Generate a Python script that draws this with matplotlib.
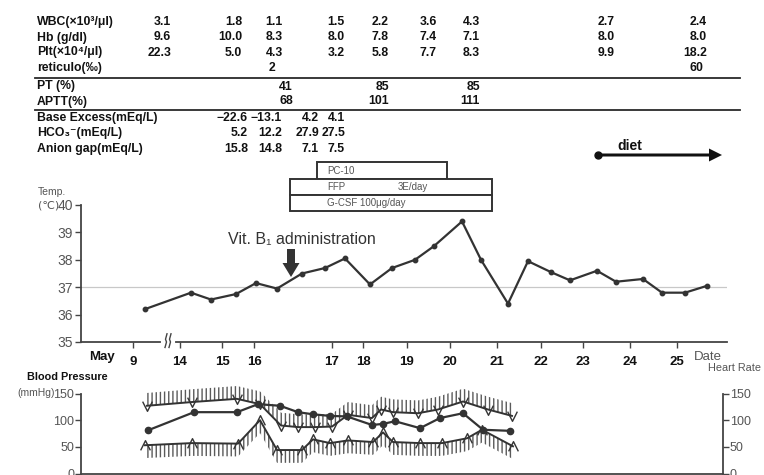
import numpy as np
import matplotlib
matplotlib.use("Agg")
import matplotlib.pyplot as plt
from matplotlib.patches import Rectangle, FancyArrow
from matplotlib.path import Path
from matplotlib.lines import Line2D
import matplotlib.transforms as mtrans

plt.rcParams['font.family'] = ['Liberation Sans', 'DejaVu Sans']
plt.rcParams['hatch.linewidth'] = 1.0

# ---------------- data ----------------
row_labels = ["WBC(×10³/μl)", "Hb (g/dl)", "Plt(×10⁴/μl)", "reticulo(‰)",
              "PT (%)", "APTT(%)", "Base Excess(mEq/L)", "HCO₃⁻(mEq/L)",
              "Anion gap(mEq/L)"]
wbc = ["3.1", "1.8", "1.1", "1.5", "2.2", "3.6", "4.3", "2.7", "2.4"]
hb = ["9.6", "10.0", "8.3", "8.0", "7.8", "7.4", "7.1", "8.0", "8.0"]
plt_cnt = ["22.3", "5.0", "4.3", "3.2", "5.8", "7.7", "8.3", "9.9", "18.2"]
reticulo = ["2", "60"]
pt = ["41", "85", "85"]
aptt = ["68", "101", "111"]
base_excess = ["−22.6", "−13.1", "4.2", "4.1"]
hco3 = ["5.2", "12.2", "27.9", "27.5"]
anion_gap = ["15.8", "14.8", "7.1", "7.5"]

date_labels = ["9", "14", "15", "16", "17", "18", "19", "20", "21", "22", "23", "24", "25"]
date_pos = [133, 180, 222, 254, 332, 363, 407, 450, 497, 541, 583, 630, 677]

temp_x = [145, 191, 211, 236, 256, 277, 302, 325, 345, 370, 392, 415, 434,
          462, 481, 508, 528, 551, 570, 597, 616, 643, 662, 685, 707]
temp_y = [36.2, 36.8, 36.55, 36.75, 37.15, 36.95, 37.5, 37.7, 38.05, 37.1,
          37.7, 38.0, 38.5, 39.4, 38.0, 36.4, 37.95, 37.55, 37.25, 37.6,
          37.2, 37.3, 36.8, 36.8, 37.05]

sys_x = [147, 192, 237, 260, 281, 298, 315, 332, 348, 372, 381, 393, 418, 438, 463, 488, 512]
sys_bp = [127, 134, 140, 130, 90, 87, 87, 88, 110, 104, 120, 115, 113, 120, 135, 120, 108]
dia_x = [145, 192, 238, 260, 277, 302, 313, 330, 348, 373, 383, 393, 420, 442, 467, 482, 513]
dia_bp = [53, 57, 56, 100, 44, 44, 64, 57, 62, 59, 77, 59, 57, 57, 66, 82, 51]
hr_x = [148, 194, 237, 258, 280, 298, 313, 330, 347, 372, 383, 395, 420, 440, 463, 483, 510]
hr = [81, 115, 115, 130, 127, 115, 111, 108, 107, 91, 93, 98, 85, 104, 113, 82, 80]

# ---------------- layout helpers ----------------
W, H = 764, 475
def fx(x): return x / W
def fy(y): return 1 - y / H

fig = plt.figure(figsize=(7.64, 4.75), dpi=100)
fig.patch.set_facecolor('white')
DK = '#2a2a2a'
GR = '#555555'

# ---------------- lab table ----------------
row_y = [22, 37.5, 52.5, 68, 86.5, 101.5, 118, 133, 149]
for lab, y in zip(row_labels, row_y):
    fig.text(fx(37), fy(y), lab, ha='left', va='center', fontsize=8.8,
             fontweight='bold', color='#111')

cbc_cols = [171, 242, 283, 345, 389, 437, 480, 615, 707]
for vals, y in ((wbc, row_y[0]), (hb, row_y[1]), (plt_cnt, row_y[2])):
    for v, x in zip(vals, cbc_cols):
        fig.text(fx(x), fy(y), v, ha='right', va='center', fontsize=8.8,
                 fontweight='bold', color='#111')
for v, x in zip(reticulo, [275, 703]):
    fig.text(fx(x), fy(row_y[3]), v, ha='right', va='center', fontsize=8.8,
             fontweight='bold', color='#111')
for vals, y in ((pt, row_y[4]), (aptt, row_y[5])):
    for v, x in zip(vals, [293, 389, 480]):
        fig.text(fx(x), fy(y), v, ha='right', va='center', fontsize=8.8,
                 fontweight='bold', color='#111')
for vals, y in ((base_excess, row_y[6]), (hco3, row_y[7]), (anion_gap, row_y[8])):
    for v, x in zip(vals, [248, 282, 319, 345]):
        fig.text(fx(x), fy(y), v, ha='right', va='center', fontsize=8.8,
                 fontweight='bold', color='#111')

for yl in (77.5, 109.5):
    fig.add_artist(Line2D([fx(35), fx(740)], [fy(yl), fy(yl)], color=DK, lw=1.3))

# ---------------- temperature panel ----------------
ax = fig.add_axes([fx(81), fy(342), fx(727) - fx(81), (342 - 205) / H])
ax.set_xlim(81, 727)
ax.set_ylim(35, 40)
ax.axhline(37, color='#c8c8c8', lw=0.9, zorder=1)
ax.plot(temp_x, temp_y, color='#333333', lw=1.6, marker='o', ms=3.2, zorder=3)
for s in ('top', 'right'):
    ax.spines[s].set_visible(False)
for s in ('left', 'bottom'):
    ax.spines[s].set_color('#444444')
    ax.spines[s].set_linewidth(1.3)
ax.set_yticks([35, 36, 37, 38, 39, 40])
ax.set_yticklabels(['35', '36', '37', '38', '39', '40'])
ax.tick_params(axis='y', direction='out', length=4, width=1, colors='#444444',
               labelcolor=GR, labelsize=10, pad=2)
ax.set_xticks(date_pos)
ax.set_xticklabels(date_labels, fontweight='bold', fontsize=9.5, color='#111')
ax.tick_params(axis='x', direction='out', length=4, width=1, colors='#444444',
               labelcolor='#111', pad=6)
fig.text(fx(102), fy(357), "May", ha='center', va='center', fontsize=9.5,
         fontweight='bold', color='#111')
fig.text(fx(708), fy(357), "Date", ha='center', va='center', fontsize=9.5,
         color=GR)
fig.text(fx(52), fy(192), "Temp.", ha='center', va='center', fontsize=7.5,
         color=GR)
fig.text(fx(59), fy(205), "(℃)", ha='right', va='center', fontsize=8,
         color=GR, family=['DejaVu Sans'])

# axis break mark
blend = mtrans.blended_transform_factory(ax.transData, ax.transAxes)
ax.plot([163, 173], [0, 0], color='white', lw=3, transform=blend, clip_on=False, zorder=5)
for bx0 in (165, 169):
    ax.plot([bx0, bx0 + 1.5, bx0 + 0.5, bx0 + 2], [-0.04, 0.0, 0.02, 0.06],
            color='#444444', lw=1, transform=blend, clip_on=False, zorder=6)

# Vit B1 annotation
fig.text(fx(228), fy(239), "Vit. B₁ administration", ha='left', va='center',
         fontsize=11.5, color='#333333')
fig.add_artist(FancyArrow(fx(291), fy(249), 0, fy(277) - fy(249),
                          width=8 / W, head_width=17 / W, head_length=14 / H,
                          length_includes_head=True, transform=fig.transFigure,
                          color='#333333', lw=0))

# treatment boxes
boxes = [(317, 162, 447, 179), (290, 179, 492, 195), (290, 195, 492, 211)]
for x0, y0, x1, y1 in boxes:
    fig.add_artist(Rectangle((fx(x0), fy(y1)), fx(x1) - fx(x0), (y1 - y0) / H,
                             transform=fig.transFigure, fill=True,
                             facecolor='white', edgecolor='#333333', lw=1.4))
fig.text(fx(327), fy(170.5), "PC-10", ha='left', va='center', fontsize=7, color=GR)
fig.text(fx(327), fy(187), "FFP", ha='left', va='center', fontsize=7, color=GR)
fig.text(fx(428), fy(187), "3E/day", ha='right', va='center', fontsize=7, color=GR)
fig.text(fx(327), fy(203), "G-CSF 100μg/day", ha='left', va='center', fontsize=7, color=GR)

# diet arrow
fig.add_artist(FancyArrow(fx(598), fy(155), fx(722) - fx(598), 0,
                          width=3 / H, head_width=13 / H, head_length=13 / W,
                          length_includes_head=True, transform=fig.transFigure,
                          color='#111111', lw=0))
fig.add_artist(Line2D([fx(598)], [fy(155)], marker='o', ms=5, color='#111111'))
fig.text(fx(630), fy(146), "diet", ha='center', va='center', fontsize=10,
         fontweight='bold', color='#111')

# ---------------- blood pressure panel ----------------
bx = fig.add_axes([fx(81), fy(473.5), fx(723) - fx(81), 80 / H])
bx.set_xlim(81, 723)
bx.set_ylim(0, 150)
bx.patch.set_alpha(0)
sys_arr = np.array(sys_bp, dtype=float)
dia_arr = np.array(dia_bp, dtype=float)
bx.fill_between(sys_x, sys_arr, sys_arr + 24, facecolor='none', edgecolor='#5a5a5a',
                hatch='||||', linewidth=0, clip_on=False)
bx.fill_between(dia_x, dia_arr - 24, dia_arr, facecolor='none', edgecolor='#5a5a5a',
                hatch='||||', linewidth=0, clip_on=False)
v_mark = Path([(-1, 1), (0, -1), (1, 1)], [Path.MOVETO, Path.LINETO, Path.LINETO])
a_mark = Path([(-1, -1), (0, 1), (1, -1)], [Path.MOVETO, Path.LINETO, Path.LINETO])
bx.plot(sys_x, sys_bp, color='#333333', lw=1.4, marker=v_mark, ms=7, mfc='none',
        mec='#333333', mew=1.0, clip_on=False)
bx.plot(dia_x, dia_bp, color='#333333', lw=1.4, marker=a_mark, ms=7, mfc='none',
        mec='#333333', mew=1.0, clip_on=False)
bx.plot(hr_x, hr, color='#333333', lw=1.6, marker='o', ms=4.5, clip_on=False, zorder=4)
bx.spines['top'].set_visible(False)
for s in ('left', 'bottom', 'right'):
    bx.spines[s].set_color('#444444')
    bx.spines[s].set_linewidth(1.3)
bx.set_xticks([])
bx.set_yticks([0, 50, 100, 150])
bx.tick_params(axis='y', direction='out', length=4, width=1, colors='#444444',
               labelcolor=GR, labelsize=9, pad=1, left=True, right=True,
               labelright=True, labelleft=True)
fig.text(fx(55), fy(393), "(mmHg)", ha='right', va='center', fontsize=7.5, color=GR)
fig.text(fx(27), fy(377), "Blood Pressure", ha='left', va='center', fontsize=7.8,
         fontweight='bold', color='#111')
fig.text(fx(708), fy(368), "Heart Rate", ha='left', va='center', fontsize=7.8,
         color=GR)

fig.savefig("out.png", dpi=100)
